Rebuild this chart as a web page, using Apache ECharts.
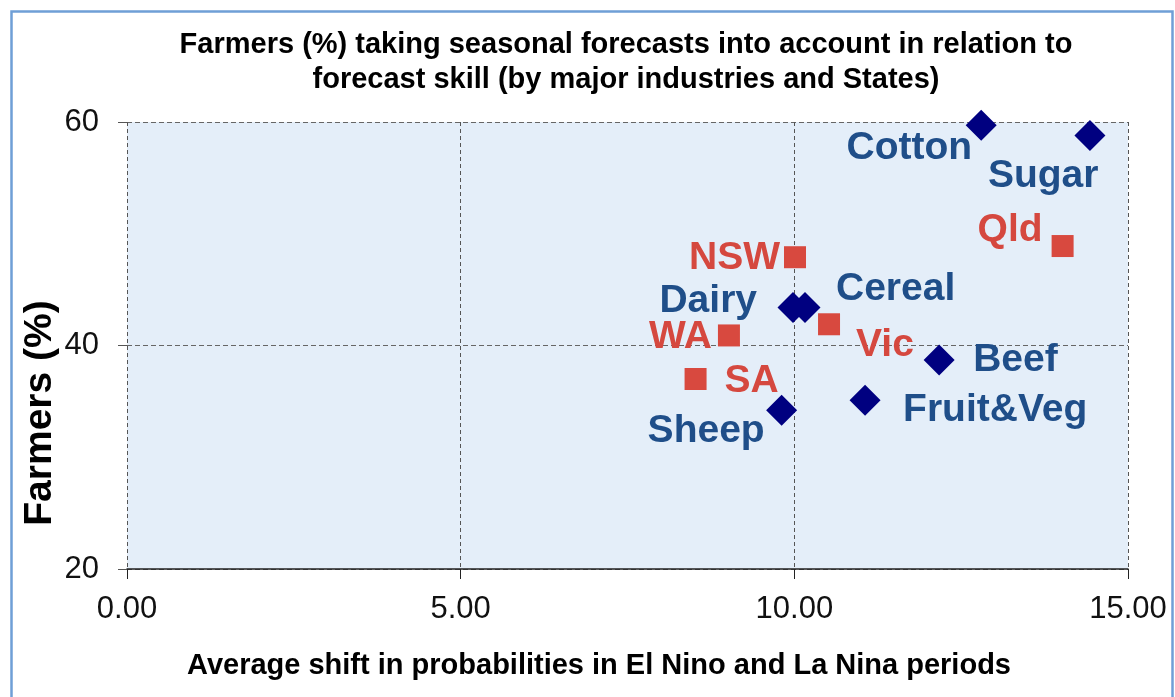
<!DOCTYPE html>
<html>
<head>
<meta charset="utf-8">
<script src="https://cdn.jsdelivr.net/npm/echarts@6/dist/echarts.min.js"></script>
<style>
html,body{margin:0;padding:0;background:#fff;}
#chart{width:1175px;height:697px;}
</style>
</head>
<body>
<div id="chart"></div>
<script>
// ---- data ----
const industries = ['Cotton', 'Sugar', 'Dairy', 'Cereal', 'Beef', 'Fruit&Veg', 'Sheep'];
const industryX  = [12.80, 14.43, 9.98, 10.16, 12.17, 11.06, 9.81];
const industryY  = [59.7, 58.8, 43.4, 43.4, 38.7, 35.1, 34.2];

const states = ['NSW', 'Qld', 'WA', 'Vic', 'SA'];
const stateX = [10.01, 14.02, 9.02, 10.52, 8.52];
const stateY = [47.9, 48.9, 40.9, 41.9, 37.0];

const xTicks = [0, 5, 10, 15];
const yTicks = [20, 40, 60];

const titleText = 'Farmers (%) taking seasonal forecasts into account in relation to\nforecast skill (by major industries and States)';
const xName = 'Average shift in probabilities in El Nino and La Nina periods';
const yName = 'Farmers (%)';

// ---- label placement styles (not data) ----
const labelStyle = {
  'Cotton':    {align: 'right', offset: [-9, 23]},
  'Sugar':     {align: 'left',  offset: [-102, 41]},
  'Dairy':     {align: 'right', offset: [-36, -6]},
  'Cereal':    {align: 'left',  offset: [31, -18]},
  'Beef':      {align: 'left',  offset: [34, 0]},
  'Fruit&Veg': {align: 'left',  offset: [38, 10]},
  'Sheep':     {align: 'right', offset: [-17, 21]},
  'NSW':       {align: 'right', offset: [-15, 1]},
  'Qld':       {align: 'right', offset: [-20, -16]},
  'WA':        {align: 'right', offset: [-17, 2]},
  'Vic':       {align: 'left',  offset: [27, 21]},
  'SA':        {align: 'left',  offset: [29, 2]}
};

function buildData(names, xs, ys, color) {
  return names.map((n, i) => ({
    name: n,
    value: [xs[i], ys[i]],
    label: {
      show: true,
      position: 'inside',
      formatter: n,
      align: labelStyle[n].align,
      verticalAlign: 'middle',
      offset: labelStyle[n].offset,
      color: color,
      opacity: 1,
      fontFamily: 'Liberation Sans, Arial, sans-serif',
      fontWeight: 'bold',
      fontSize: 39
    }
  }));
}

const chart = echarts.init(document.getElementById('chart'), null, {renderer: 'canvas'});

const option = {
  backgroundColor: '#ffffff',
  animation: false,
  title: {
    text: titleText,
    left: 626,
    top: 27,
    textAlign: 'center',
    padding: 0,
    textStyle: {
      fontFamily: 'Liberation Sans, Arial, sans-serif',
      fontWeight: 'bold',
      fontSize: 29,
      lineHeight: 35,
      color: '#000'
    }
  },
  grid: {
    left: 127, right: 47, top: 122, bottom: 128,
    show: true,
    backgroundColor: '#e4eef9',
    borderWidth: 0
  },
  xAxis: {
    type: 'value',
    min: xTicks[0], max: xTicks[xTicks.length - 1], interval: 5,
    axisLine: {show: true, onZero: false, lineStyle: {color: '#222', width: 1.5}},
    axisTick: {show: true, length: 10, inside: false, lineStyle: {color: '#222'}},
    axisLabel: {
      margin: 25,
      formatter: v => v.toFixed(2),
      fontFamily: 'Liberation Sans, Arial, sans-serif',
      fontSize: 31,
      color: '#111'
    },
    splitLine: {show: true, lineStyle: {color: '#555', type: [4, 3], width: 1}}
  },
  yAxis: {
    type: 'value',
    min: yTicks[0], max: yTicks[yTicks.length - 1], interval: 20,
    axisLine: {show: false},
    axisTick: {show: true, length: 9, lineStyle: {color: '#555'}},
    axisLabel: {
      margin: 28,
      fontFamily: 'Liberation Sans, Arial, sans-serif',
      fontSize: 31,
      color: '#111'
    },
    splitLine: {show: true, lineStyle: {color: '#666', type: [5, 3], width: 1}}
  },
  graphic: [
    {
      type: 'rect',
      silent: true,
      shape: {x: 11.5, y: 11.5, width: 1161, height: 760},
      style: {fill: 'none', stroke: '#6f9fd6', lineWidth: 2.5},
      z: 100
    },
    {
      type: 'text',
      style: {
        text: xName,
        x: 599, y: 666,
        textAlign: 'center',
        textVerticalAlign: 'middle',
        fontFamily: 'Liberation Sans, Arial, sans-serif',
        fontWeight: 'bold',
        fontSize: 29,
        fill: '#000'
      }
    },
    {
      type: 'text',
      x: 40, y: 413,
      rotation: Math.PI / 2,
      style: {
        text: yName,
        x: 0, y: 0,
        textAlign: 'center',
        textVerticalAlign: 'middle',
        fontFamily: 'Liberation Sans, Arial, sans-serif',
        fontWeight: 'bold',
        fontSize: 39,
        fill: '#000'
      }
    }
  ],
  series: [
    {
      name: 'Industries',
      type: 'scatter',
      symbol: 'diamond',
      symbolSize: 31,
      clip: false,
      itemStyle: {color: '#000080', opacity: 1},
      data: buildData(industries, industryX, industryY, '#1f4e89'),
      z: 5
    },
    {
      name: 'States',
      type: 'scatter',
      symbol: 'rect',
      symbolSize: 22,
      clip: false,
      itemStyle: {color: '#d8493f', opacity: 1},
      data: buildData(states, stateX, stateY, '#d5483f'),
      z: 4
    }
  ]
};

chart.setOption(option);
</script>
</body>
</html>
